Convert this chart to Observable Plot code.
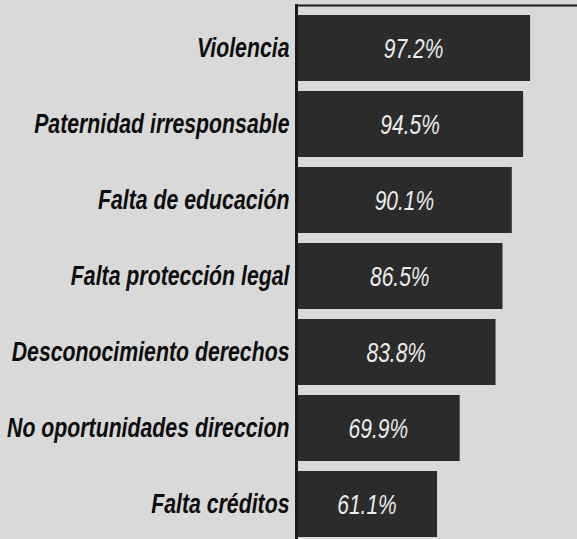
<!DOCTYPE html>
<html>
<head>
<meta charset="utf-8">
<script src="https://cdn.jsdelivr.net/npm/d3@7"></script>
<script src="https://cdn.jsdelivr.net/npm/@observablehq/plot@0.6"></script>
<style>
  html, body { margin: 0; padding: 0; background: #d9d9d9; }
  #chart { width: 577px; height: 539px; }
</style>
</head>
<body>
<div id="chart"></div>
<script>
const categories = [
  "Violencia",
  "Paternidad irresponsable",
  "Falta de educación",
  "Falta protección legal",
  "Desconocimiento derechos",
  "No oportunidades direccion",
  "Falta créditos"
];
const values = [97.2, 94.5, 90.1, 86.5, 83.8, 69.9, 61.1];

const data = categories.map((c, i) => ({label: c, value: values[i]}));
const xDomain = [6.4, 115.4];
const font = "'Liberation Sans', Arial, Helvetica, sans-serif";

const chart = Plot.plot({
  width: 577,
  height: 539,
  marginLeft: 296,
  marginRight: 0,
  marginTop: 5,
  marginBottom: 0,
  style: {background: "#d9d9d9", overflow: "visible"},
  x: {domain: xDomain, axis: null},
  y: {domain: categories, paddingInner: 0.13, paddingOuter: 0.055, align: 0.85},
  marks: [
    Plot.barX(data, {y: "label", x: "value", fill: "#2b2b2b", clip: true}),
    Plot.frame({anchor: "top", stroke: "#1a1a1a", strokeWidth: 2}),
    Plot.frame({anchor: "left", stroke: "#1a1a1a", strokeWidth: 3}),
    Plot.axisY({
      tickSize: 0,
      tickPadding: 7,
      label: null,
      fontSize: 28,
      fontWeight: "bold",
      fontStyle: "italic",
      fontFamily: font,
      fill: "#0d0d0d"
    }),
    Plot.text(data, {
      y: "label",
      x: d => (xDomain[0] + d.value) / 2,
      text: d => d.value.toFixed(1) + "%",
      fill: "#ececec",
      fontSize: 28,
      fontStyle: "italic",
      fontFamily: font,
      dy: 1
    })
  ]
});

// condense the type horizontally, like the newspaper's narrow face
function condense(sel, s) {
  chart.querySelectorAll(sel).forEach(t => {
    const x = parseFloat(t.getAttribute("x")) || 0;
    const tr = t.getAttribute("transform") || "";
    t.setAttribute("transform", `${tr} translate(${x},0) scale(${s},1) translate(${-x},0)`);
  });
}
condense('g[aria-label="y-axis tick label"] text', 0.76);
condense('g[aria-label="text"] text', 0.75);

document.getElementById("chart").appendChild(chart);
</script>
</body>
</html>
